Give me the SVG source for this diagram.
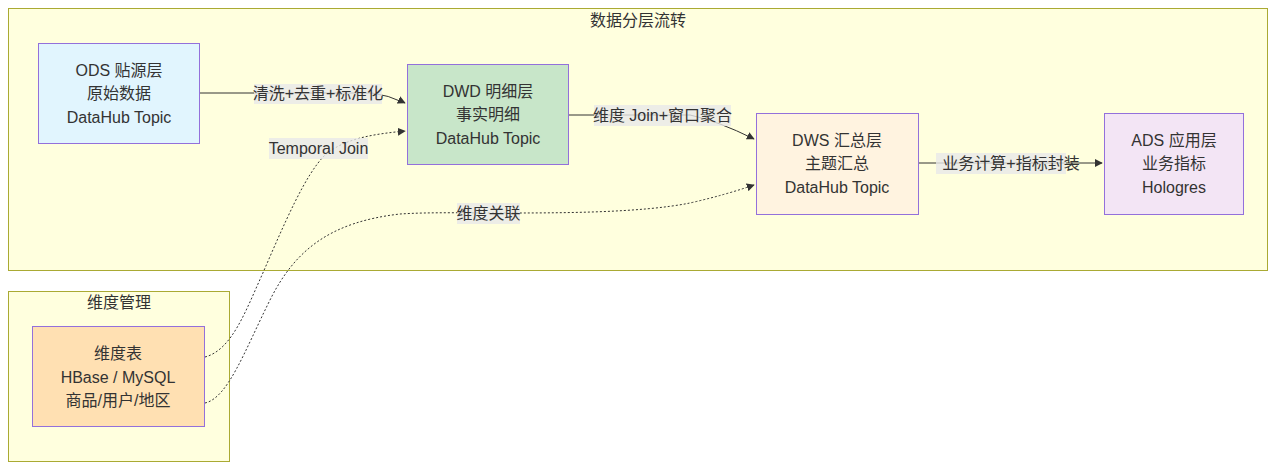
<svg xmlns="http://www.w3.org/2000/svg" width="1284" height="473" viewBox="0 0 1284 473">
<style>
.cluster{fill:#ffffde;stroke:#aaaa33;stroke-width:1}
.node{stroke:#9370db;stroke-width:1}
text{font-family:"Liberation Sans","Noto Sans CJK SC",sans-serif;font-size:16px;fill:#333;text-anchor:middle;dominant-baseline:central}
.edge{fill:none;stroke:#333;stroke-width:1}
.dot{stroke-dasharray:2 2}
.lbg{fill:#e8e8e8;fill-opacity:0.8}
</style>
<defs>
<marker id="arr" viewBox="0 0 10 10" refX="9" refY="5" markerWidth="8" markerHeight="8" orient="auto" markerUnits="userSpaceOnUse">
<path d="M0,0 L10,5 L0,10 z" fill="#333"/>
</marker>
</defs>
<rect width="1284" height="473" fill="#ffffff"/>
<g id="cluster-flow">
<rect class="cluster" x="8.5" y="8.5" width="1259" height="262"/>
<text x="638" y="20">数据分层流转</text>
</g>
<g id="cluster-dim">
<rect class="cluster" x="8.5" y="291.5" width="221" height="170"/>
<text x="119" y="302">维度管理</text>
</g>
<g id="connectors">
<path class="edge" d="M200,93 L372,93 Q388,95 405,103" marker-end="url(#arr)"/>
<path class="edge dot" d="M205,357 C232,350 246,310 262,275 C285,222 305,175 325,155 C345,138 375,134 405,131" marker-end="url(#arr)"/>
<path class="edge" d="M569,115 L690,115 Q718,121 754,139" marker-end="url(#arr)"/>
<path class="edge dot" d="M205,403 C228,398 245,350 270,300 C295,250 330,222 400,214 C430,212 470,213 500,213 C560,213 640,213 690,203 Q725,195 754,185" marker-end="url(#arr)"/>
<path class="edge" d="M918,163 L1102,163" marker-end="url(#arr)"/>
</g>
<g id="edge-labels">
<rect class="lbg" x="254" y="84" width="128" height="20"/>
<text x="318" y="93">清洗+去重+标准化</text>
<rect class="lbg" x="269" y="138" width="99" height="21"/>
<text x="318.5" y="148">Temporal Join</text>
<rect class="lbg" x="594" y="105" width="137" height="21"/>
<text x="662.5" y="115">维度 Join+窗口聚合</text>
<rect class="lbg" x="457" y="203" width="63" height="21"/>
<text x="488.5" y="213">维度关联</text>
<rect class="lbg" x="936" y="153" width="130" height="21"/>
<text x="1011" y="163">业务计算+指标封装</text>
</g>
<g id="node-ods">
<rect class="node" x="38.5" y="43.5" width="161" height="100" fill="#e1f5fe"/>
<text x="119" y="70">ODS 贴源层</text>
<text x="119" y="93">原始数据</text>
<text x="119" y="117">DataHub Topic</text>
</g>
<g id="node-dwd">
<rect class="node" x="407.5" y="64.5" width="161" height="100" fill="#c8e6c9"/>
<text x="488" y="91">DWD 明细层</text>
<text x="488" y="114">事实明细</text>
<text x="488" y="138">DataHub Topic</text>
</g>
<g id="node-dws">
<rect class="node" x="756.5" y="113.5" width="162" height="101" fill="#fff3e0"/>
<text x="837" y="140">DWS 汇总层</text>
<text x="837" y="163">主题汇总</text>
<text x="837" y="187">DataHub Topic</text>
</g>
<g id="node-ads">
<rect class="node" x="1104.5" y="113.5" width="139" height="101" fill="#f3e5f5"/>
<text x="1174" y="140">ADS 应用层</text>
<text x="1174" y="163">业务指标</text>
<text x="1174" y="187">Hologres</text>
</g>
<g id="node-dim">
<rect class="node" x="32.5" y="326.5" width="172" height="100" fill="#ffe0b2"/>
<text x="118" y="353">维度表</text>
<text x="118" y="377">HBase / MySQL</text>
<text x="118" y="400">商品/用户/地区</text>
</g>
</svg>
